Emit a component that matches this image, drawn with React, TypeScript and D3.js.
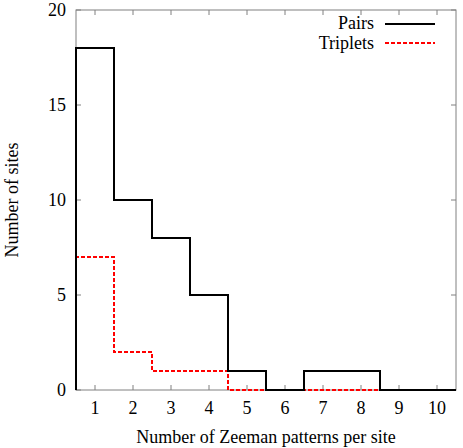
import React from "react";
import * as d3 from "d3";

const categories = [1, 2, 3, 4, 5, 6, 7, 8, 9, 10];
const pairs = [18, 10, 8, 5, 1, 0, 1, 1, 0, 0];
const triplets = [7, 2, 1, 1, 0, 0, 0, 0, 0, 0];
const yTicks = [0, 5, 10, 15, 20];

const W = 463, H = 448;
const margin = { top: 10, right: 7, bottom: 58, left: 76 };
const font = "Liberation Serif, Times New Roman, Times, serif";
const fs = 18;

const x = d3.scaleLinear().domain([0.5, 10.5]).range([margin.left, W - margin.right]);
const y = d3.scaleLinear().domain([0, 20]).range([H - margin.bottom, margin.top]);

// histogram outline built from bin edges
const stepPts = (vals: number[]): [number, number][] => {
  const pts: [number, number][] = [[0.5, 0]];
  vals.forEach((v, i) => pts.push([categories[i] - 0.5, v]));
  pts.push([categories[categories.length - 1] + 0.5, vals[vals.length - 1]]);
  return pts;
};

const line = d3.line<[number, number]>()
  .x(d => x(d[0]))
  .y(d => y(d[1]))
  .curve(d3.curveStepAfter);

export default function App() {
  const x0 = x(0.5), x1 = x(10.5), y0 = y(0), y1 = y(20);
  const tk = 5;
  return (
    <svg width={W} height={H} style={{ position: "absolute", left: 0, top: 0, fontFamily: font }}>
      <rect x={0} y={0} width={W} height={H} fill="#fff" />
      {/* ticks */}
      <g stroke="#808080" strokeWidth={1}>
        {categories.map(c => (
          <g key={c}>
            <line x1={x(c)} x2={x(c)} y1={y0} y2={y0 - tk} />
            <line x1={x(c)} x2={x(c)} y1={y1} y2={y1 + tk} />
          </g>
        ))}
        {yTicks.map(t => (
          <g key={t}>
            <line x1={x0} x2={x0 + tk} y1={y(t)} y2={y(t)} />
            <line x1={x1} x2={x1 - tk} y1={y(t)} y2={y(t)} />
          </g>
        ))}
        <rect x={x0} y={y1} width={x1 - x0} height={y0 - y1} fill="none" />
      </g>
      {/* tick labels */}
      <g fontSize={fs} fill="#000" style={{ fontFamily: font }}>
        {categories.map(c => (
          <text key={c} x={x(c)} y={y0 + 24} textAnchor="middle">{c}</text>
        ))}
        {yTicks.map(t => (
          <text key={t} x={x0 - 10} y={y(t) + 6} textAnchor="end">{t}</text>
        ))}
      </g>
      {/* series */}
      <path d={line(stepPts(triplets)) || ""} fill="none" stroke="#ff0000" strokeWidth={2} strokeDasharray="4,2" />
      <path d={line(stepPts(pairs)) || ""} fill="none" stroke="#000" strokeWidth={2} />
      {/* axis titles */}
      <g fontSize={fs} style={{ fontFamily: font }}>
        <text x={(x0 + x1) / 2} y={443} textAnchor="middle">Number of Zeeman patterns per site</text>
        <text transform={`translate(18,${(y0 + y1) / 2}) rotate(-90)`} textAnchor="middle">Number of sites</text>
        {/* legend */}
        <text x={374} y={29} textAnchor="end">Pairs</text>
        <line x1={385} x2={435} y1={24} y2={24} stroke="#000" strokeWidth={2} />
        <text x={374} y={49} textAnchor="end">Triplets</text>
        <line x1={385} x2={435} y1={43} y2={43} stroke="#ff0000" strokeWidth={2} strokeDasharray="4,2" />
      </g>
    </svg>
  );
}
